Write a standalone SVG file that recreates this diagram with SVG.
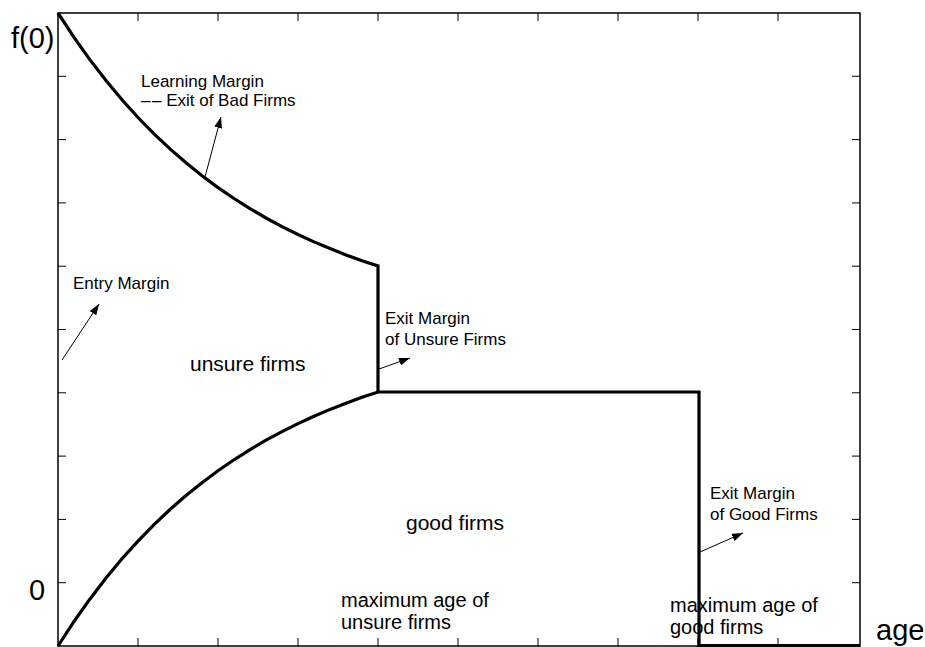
<svg xmlns="http://www.w3.org/2000/svg" width="925" height="647" viewBox="0 0 925 647">
<style>
text{font-family:"Liberation Sans",Arial,sans-serif;fill:#000}
.s{font-size:17px}
.m{font-size:20px}
.b{font-size:21px}
.ax{font-size:29px}
.frame{fill:none;stroke:#000;stroke-width:1.5}
.tick{stroke:#000;stroke-width:1}
.thick{fill:none;stroke:#000;stroke-width:3.2;stroke-linejoin:miter}
.arr{stroke:#000;stroke-width:1;fill:none;marker-end:url(#ah)}
</style>
<defs>
<marker id="ah" markerUnits="userSpaceOnUse" markerWidth="12" markerHeight="8" refX="11" refY="4" orient="auto">
<path d="M0,0 L11,4 L0,8 Z" fill="#000"/>
</marker>
</defs>
<rect width="925" height="647" fill="#fff"/>
<g id="axes">
<rect class="frame" x="58" y="13" width="802" height="633"/>
<path class="tick" d="M138,646v-8M218,646v-8M298,646v-8M378,646v-8M458,646v-8M538,646v-8M618,646v-8M698,646v-8M778,646v-8M138,13v8M218,13v8M298,13v8M378,13v8M458,13v8M538,13v8M618,13v8M698,13v8M778,13v8M58,76.3h8M58,139.6h8M58,202.9h8M58,266.2h8M58,329.5h8M58,392.8h8M58,456.1h8M58,519.4h8M58,582.7h8M860,76.3h-8M860,139.6h-8M860,202.9h-8M860,266.2h-8M860,329.5h-8M860,392.8h-8M860,456.1h-8M860,519.4h-8M860,582.7h-8"/>
<text class="ax" x="11" y="48">f(0)</text>
<text class="ax" x="29" y="600">0</text>
<text class="ax" x="876" y="640">age</text>
</g>
<g id="boundaries">
<polyline id="learning-margin" class="thick" points="58,13 74,37.4 90,59.9 106,80.6 122,99.8 138,117.5 154,133.8 170,148.9 186,162.8 202,175.7 218,187.6 234,198.5 250,208.6 266,218 282,226.6 298,234.5 314,241.9 330,248.6 346,254.9 362,260.7 378,266 378,392"/>
<polyline id="entry-margin" class="thick" points="58,646 74,621.5 90,598.9 106,578.1 122,558.8 138,541.1 154,524.7 170,509.5 186,495.6 202,482.7 218,470.7 234,459.8 250,449.6 266,440.2 282,431.6 298,423.6 314,416.2 330,409.4 346,403.2 362,397.3 378,392 699,392 699,645.5 860,645.5"/>
</g>
<g id="connectors">
<line class="arr" x1="205" y1="177" x2="221" y2="117"/>
<line class="arr" x1="62" y1="360" x2="99" y2="304"/>
<line class="arr" x1="379" y1="369" x2="410" y2="358"/>
<line class="arr" x1="700" y1="552" x2="743" y2="533"/>
</g>
<g id="labels">
<text class="s" x="141" y="87">Learning Margin</text>
<text class="s" x="141" y="106">–<tspan dx="1.5">–</tspan> Exit of Bad Firms</text>
<text class="s" x="73" y="289">Entry Margin</text>
<text class="s" x="385" y="324">Exit Margin</text>
<text class="s" x="385" y="345">of Unsure Firms</text>
<text class="s" x="710" y="499">Exit Margin</text>
<text class="s" x="710" y="520">of Good Firms</text>
<text class="b" x="190" y="371">unsure firms</text>
<text class="b" x="406" y="530">good firms</text>
<text class="m" x="341" y="607">maximum age of</text>
<text class="m" x="341" y="629">unsure firms</text>
<text class="m" x="670" y="612">maximum age of</text>
<text class="m" x="670" y="634">good firms</text>
</g>
</svg>
